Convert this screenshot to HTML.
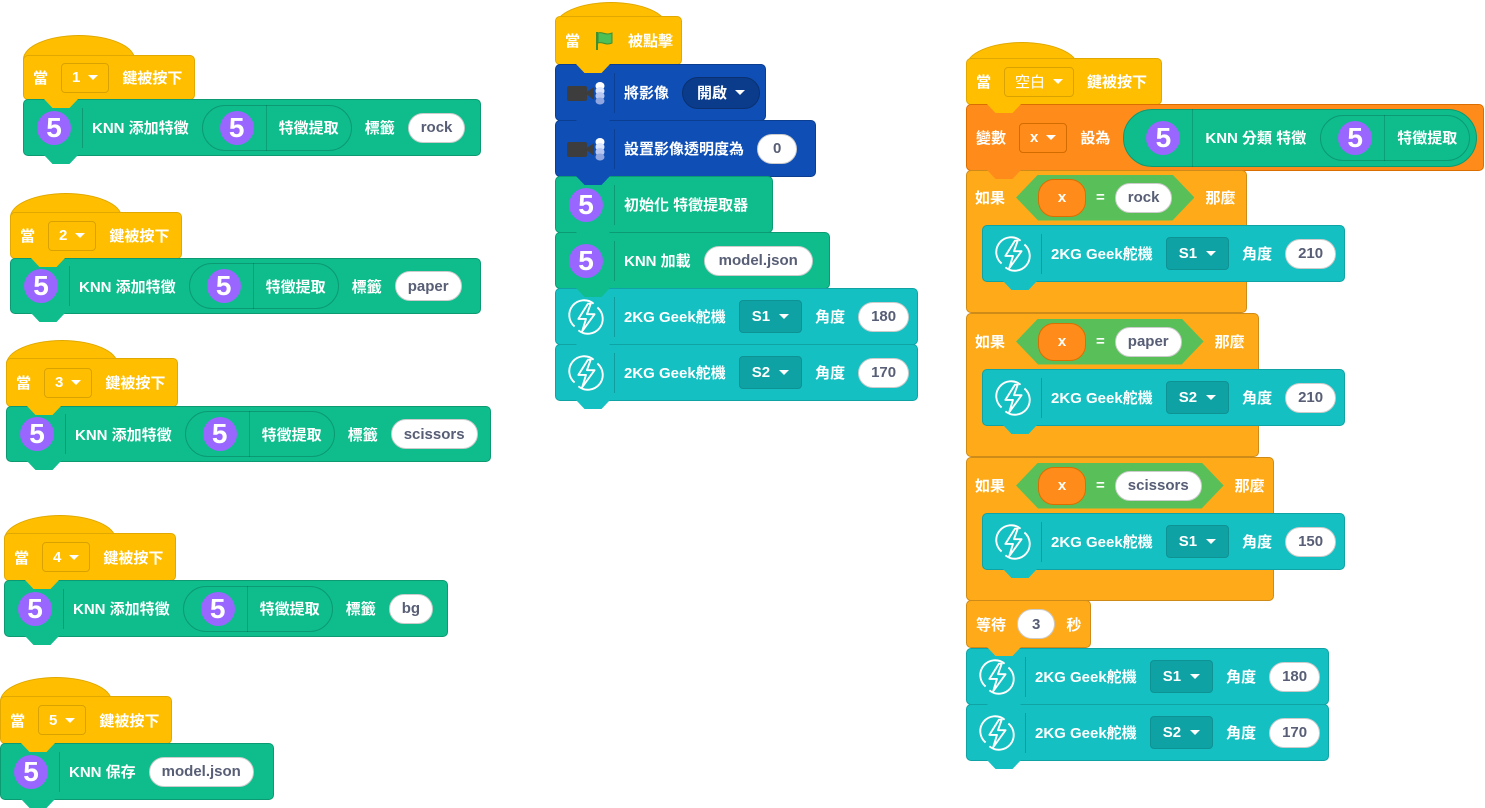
<!DOCTYPE html>
<html><head><meta charset="utf-8"><style>
body{margin:0;width:1485px;height:808px;background:#fff;position:relative;overflow:hidden}
.b{position:absolute;border-radius:5px;box-sizing:border-box;display:flex;align-items:center;color:#fff;font:bold 15px "Liberation Sans","Noto Sans CJK TC",sans-serif;white-space:nowrap;gap:13px;padding-left:9px}
.hat{background:#FFBF00;border:1px solid #E0A800}
.hump{position:absolute;background:#FFBF00;border:1px solid #E0A800;border-bottom:none;box-sizing:border-box;border-radius:60px 60px 0 0/26px 26px 0 0}
.g{background:#0FBD8C;border:1px solid #0B9A72}
.t{background:#14C0C2;border:1px solid #0FA3A5}
.v{background:#0F4FB5;border:1px solid #0B3E90}
.o{background:#FF8C1A;border:1px solid #DB6E00}
.c{background:#FFAB19;border:1px solid #CF8B17}
.tab{position:absolute;left:20px;bottom:-9px;width:34px;height:9px;background:inherit;clip-path:polygon(0 0,100% 0,75% 100%,25% 100%);z-index:3}
.ic{width:44px;height:40px;display:flex;align-items:center;justify-content:center;border-right:1px solid rgba(0,0,0,.18);padding-right:6px;margin-right:-4px;margin-left:-1px}
.five{width:34px;height:34px;border-radius:50%;background:#9966FF;font:bold 28px "Liberation Sans",sans-serif;display:flex;align-items:center;justify-content:center;color:#fff;flex:none}
.w{background:#fff;color:#575E75;border-radius:16px;height:30px;padding:0 12px;display:flex;align-items:center;border:1px solid #ccc;box-sizing:border-box}
.ddh{border:1px solid #D9A200;border-radius:4px;height:30px;padding:0 10px;display:flex;align-items:center;gap:8px;box-sizing:border-box}
.ddt{background:#0FA2A4;border:1px solid #0E9294;border-radius:4px;height:33px;padding:0 12px;display:flex;align-items:center;gap:9px;box-sizing:border-box}
.ddo{border:1px solid #D26B00;border-radius:4px;height:30px;padding:0 10px;display:flex;align-items:center;gap:8px;box-sizing:border-box}
.ar{width:0;height:0;border-left:5px solid transparent;border-right:5px solid transparent;border-top:5px solid #fff}
.pill{height:46px;border:1px solid #0B9A72;border-radius:23px;display:flex;align-items:center;padding:0 12px 0 17px;box-sizing:border-box;gap:0}
.pill .div{width:1px;height:46px;background:rgba(0,0,0,.15);margin:0 12px}
.hex{background:#59C059;height:46px;display:flex;align-items:center;gap:10px;padding:0 22px;clip-path:polygon(0 50%,22px 0,calc(100% - 22px) 0,100% 50%,calc(100% - 22px) 100%,22px 100%)}
.ov{background:#FF8C1A;border-radius:16px;height:36px;width:46px;display:flex;align-items:center;justify-content:center;border:1px solid #DB6E00}
</style></head><body>
<svg width="0" height="0" style="position:absolute"><defs>
<symbol id="bolt" viewBox="0 0 40 40"><g fill="none" stroke="#fff" stroke-width="2"><path d="M8 30 A15 15 0 0 1 28 6"/><path d="M32 10 A15 15 0 0 1 12 34"/><path d="M22 6 L12 22 H20 L16 35 L29 17 H21 L25 6 Z" stroke-linejoin="round"/></g></symbol>
<symbol id="cam" viewBox="0 0 40 24"><rect x="1" y="5" width="20" height="15" rx="2" fill="#3d3d3d"/><path d="M19 12 L28 6 V19 Z" fill="#3d3d3d"/><ellipse cx="34" cy="5" rx="4.5" ry="4" fill="#fff"/><ellipse cx="34" cy="10" rx="4.5" ry="4" fill="#dde6ff"/><ellipse cx="34" cy="15" rx="4.5" ry="4" fill="#b9c8f0"/><ellipse cx="34" cy="20" rx="4.5" ry="3.5" fill="#8fa6e0"/></symbol>
</defs></svg>

<!-- Stack 1 -->
<div class="hump" style="left:23px;top:35px;width:112px;height:26px"></div>
<div class="b hat" style="left:23px;top:55px;width:172px;height:45px">當<div class="ddh">1<span class="ar"></span></div>鍵被按下<span class="tab"></span></div>
<div class="b g" style="left:23px;top:99px;width:458px;height:57px"><div class="ic"><div class="five">5</div></div>KNN 添加特徵<div class="pill"><div class="five">5</div><div class="div"></div>特徵提取</div>標籤<div class="w">rock</div><span class="tab"></span></div>

<!-- Stack 2 -->
<div class="hump" style="left:10px;top:193px;width:112px;height:26px"></div>
<div class="b hat" style="left:10px;top:212px;width:172px;height:47px">當<div class="ddh">2<span class="ar"></span></div>鍵被按下<span class="tab"></span></div>
<div class="b g" style="left:10px;top:258px;width:471px;height:56px"><div class="ic"><div class="five">5</div></div>KNN 添加特徵<div class="pill"><div class="five">5</div><div class="div"></div>特徵提取</div>標籤<div class="w">paper</div><span class="tab"></span></div>

<!-- Stack 3 -->
<div class="hump" style="left:6px;top:340px;width:112px;height:26px"></div>
<div class="b hat" style="left:6px;top:358px;width:172px;height:49px">當<div class="ddh">3<span class="ar"></span></div>鍵被按下<span class="tab"></span></div>
<div class="b g" style="left:6px;top:406px;width:485px;height:56px"><div class="ic"><div class="five">5</div></div>KNN 添加特徵<div class="pill"><div class="five">5</div><div class="div"></div>特徵提取</div>標籤<div class="w">scissors</div><span class="tab"></span></div>

<!-- Stack 4 -->
<div class="hump" style="left:4px;top:515px;width:112px;height:26px"></div>
<div class="b hat" style="left:4px;top:533px;width:172px;height:48px">當<div class="ddh">4<span class="ar"></span></div>鍵被按下<span class="tab"></span></div>
<div class="b g" style="left:4px;top:580px;width:444px;height:57px"><div class="ic"><div class="five">5</div></div>KNN 添加特徵<div class="pill"><div class="five">5</div><div class="div"></div>特徵提取</div>標籤<div class="w">bg</div><span class="tab"></span></div>

<!-- Stack 5 -->
<div class="hump" style="left:0px;top:677px;width:112px;height:26px"></div>
<div class="b hat" style="left:0px;top:696px;width:172px;height:48px">當<div class="ddh">5<span class="ar"></span></div>鍵被按下<span class="tab"></span></div>
<div class="b g" style="left:0px;top:743px;width:274px;height:57px"><div class="ic"><div class="five">5</div></div>KNN 保存<div class="w">model.json</div><span class="tab"></span></div>

<!-- Middle stack -->
<div class="hump" style="left:555px;top:2px;width:112px;height:26px"></div>
<div class="b hat" style="left:555px;top:16px;width:127px;height:49px">當<svg width="22" height="22" viewBox="0 0 22 22"><path d="M4 2 V20" stroke="#3F8F2F" stroke-width="2"/><path d="M5 3 C9 1 12 6 19 3 V13 C12 16 9 11 5 13 Z" fill="#4CBF56" stroke="#3F8F2F"/></svg>被點擊<span class="tab"></span></div>
<div class="b v" style="left:555px;top:64px;width:211px;height:57px"><div class="ic"><svg width="40" height="24"><use href="#cam"/></svg></div>將影像<div class="ddh" style="background:#0B3C8C;border-color:#0A3070;border-radius:16px;height:32px;padding:0 14px;margin-left:0">開啟<span class="ar"></span></div><span class="tab"></span></div>
<div class="b v" style="left:555px;top:120px;width:261px;height:57px"><div class="ic"><svg width="40" height="24"><use href="#cam"/></svg></div>設置影像透明度為<div class="w" style="padding:0 15px">0</div><span class="tab"></span></div>
<div class="b g" style="left:555px;top:176px;width:218px;height:57px"><div class="ic"><div class="five">5</div></div>初始化 特徵提取器<span class="tab"></span></div>
<div class="b g" style="left:555px;top:232px;width:275px;height:57px"><div class="ic"><div class="five">5</div></div>KNN 加載<div class="w" style="padding:0 14px">model.json</div><span class="tab"></span></div>
<div class="b t" style="left:555px;top:288px;width:363px;height:57px"><div class="ic"><svg width="38" height="38"><use href="#bolt"/></svg></div>2KG Geek舵機<div class="ddt">S1<span class="ar"></span></div>角度<div class="w">180</div><span class="tab"></span></div>
<div class="b t" style="left:555px;top:344px;width:363px;height:57px"><div class="ic"><svg width="38" height="38"><use href="#bolt"/></svg></div>2KG Geek舵機<div class="ddt">S2<span class="ar"></span></div>角度<div class="w">170</div><span class="tab"></span></div>

<!-- Right stack -->
<div class="hump" style="left:966px;top:42px;width:112px;height:26px"></div>
<div class="b hat" style="left:966px;top:58px;width:196px;height:47px">當<div class="ddh" style="font-weight:normal">空白<span class="ar"></span></div>鍵被按下<span class="tab"></span></div>
<div class="b o" style="left:966px;top:104px;width:518px;height:67px">變數<div class="ddo">x<span class="ar"></span></div>設為<div class="pill" style="background:#0FBD8C;height:58px;border-radius:29px;padding:0 6px 0 22px"><div class="five">5</div><div class="div" style="height:58px"></div>KNN 分類 特徵<div class="pill" style="margin-left:14px;height:46px"><div class="five">5</div><div class="div"></div>特徵提取</div></div><span class="tab"></span></div>

<div style="position:absolute;left:966px;top:170px;width:281px;height:143px;background:#FFAB19;border:1px solid #CF8B17;box-sizing:border-box;border-radius:5px"></div>
<div class="b" style="left:966px;top:170px;height:55px;border:none;background:none;gap:11px">如果<div class="hex"><div class="ov">x</div>=<div class="w">rock</div></div>那麼</div>
<div class="b t" style="left:982px;top:225px;width:363px;height:57px"><div class="ic"><svg width="38" height="38"><use href="#bolt"/></svg></div>2KG Geek舵機<div class="ddt">S1<span class="ar"></span></div>角度<div class="w">210</div><span class="tab"></span></div>

<div style="position:absolute;left:966px;top:313px;width:293px;height:144px;background:#FFAB19;border:1px solid #CF8B17;box-sizing:border-box;border-radius:5px"></div>
<div class="b" style="left:966px;top:314px;height:55px;border:none;background:none;gap:11px">如果<div class="hex"><div class="ov">x</div>=<div class="w">paper</div></div>那麼</div>
<div class="b t" style="left:982px;top:369px;width:363px;height:57px"><div class="ic"><svg width="38" height="38"><use href="#bolt"/></svg></div>2KG Geek舵機<div class="ddt">S2<span class="ar"></span></div>角度<div class="w">210</div><span class="tab"></span></div>

<div style="position:absolute;left:966px;top:457px;width:308px;height:144px;background:#FFAB19;border:1px solid #CF8B17;box-sizing:border-box;border-radius:5px"></div>
<div class="b" style="left:966px;top:458px;height:55px;border:none;background:none;gap:11px">如果<div class="hex"><div class="ov">x</div>=<div class="w">scissors</div></div>那麼</div>
<div class="b t" style="left:982px;top:513px;width:363px;height:57px"><div class="ic"><svg width="38" height="38"><use href="#bolt"/></svg></div>2KG Geek舵機<div class="ddt">S1<span class="ar"></span></div>角度<div class="w">150</div><span class="tab"></span></div>

<div class="b c" style="left:966px;top:600px;width:125px;height:48px;gap:11px">等待<div class="w" style="padding:0 14px">3</div>秒<span class="tab"></span></div>
<div class="b t" style="left:966px;top:648px;width:363px;height:57px"><div class="ic"><svg width="38" height="38"><use href="#bolt"/></svg></div>2KG Geek舵機<div class="ddt">S1<span class="ar"></span></div>角度<div class="w">180</div><span class="tab"></span></div>
<div class="b t" style="left:966px;top:704px;width:363px;height:57px"><div class="ic"><svg width="38" height="38"><use href="#bolt"/></svg></div>2KG Geek舵機<div class="ddt">S2<span class="ar"></span></div>角度<div class="w">170</div><span class="tab"></span></div>
</body></html>
